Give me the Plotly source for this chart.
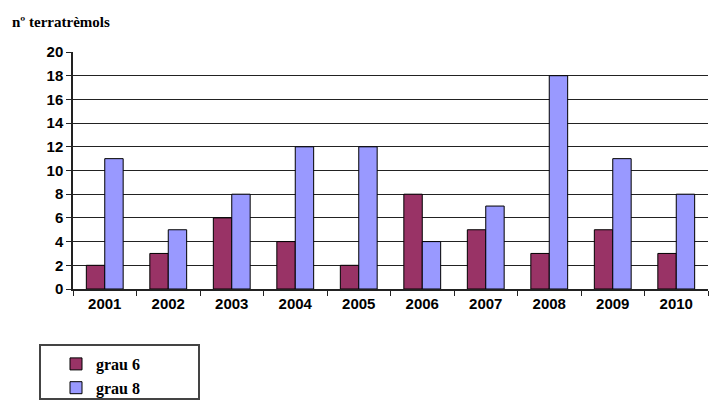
import plotly.graph_objects as go

years = ["2001", "2002", "2003", "2004", "2005", "2006", "2007", "2008", "2009", "2010"]
grau6 = [2, 3, 6, 4, 2, 8, 5, 3, 5, 3]
grau8 = [11, 5, 8, 12, 12, 4, 7, 18, 11, 8]
yticks = [0, 2, 4, 6, 8, 10, 12, 14, 16, 18, 20]

fig = go.Figure()
fig.add_trace(go.Bar(x=years, y=grau6, name="grau 6", marker=dict(color="#993366", line=dict(color="#000000", width=1))))
fig.add_trace(go.Bar(x=years, y=grau8, name="grau 8", marker=dict(color="#9999FF", line=dict(color="#000000", width=1))))

fig.update_layout(
    width=721, height=408,
    margin=dict(l=73, r=13, t=52, b=119, autoexpand=False),
    paper_bgcolor="white", plot_bgcolor="white",
    barmode="group", bargap=0.42, bargroupgap=0,
    showlegend=True,
    legend=dict(x=56 / 721, y=1 - 347 / 408, xanchor="left", yanchor="top",
                xref="container", yref="container",
                bgcolor="rgba(0,0,0,0)", borderwidth=0,
                font=dict(family="Liberation Serif", size=16, color="black", weight="bold"),
                tracegroupgap=0, itemwidth=30),
    shapes=[dict(type="rect", xref="paper", yref="paper",
                 x0=(40 - 73) / 635, x1=(199 - 73) / 635,
                 y0=-(399 - 289) / 237, y1=-(345 - 289) / 237,
                 line=dict(color="#444444", width=2))],
    annotations=[dict(text="nº terratrèmols", xref="paper", yref="paper",
                      x=(10 - 73) / 635, y=(289 - 22) / 237, xanchor="left", yanchor="middle",
                      showarrow=False,
                      font=dict(family="Liberation Serif", size=15, color="black", weight="bold"))],
)
fig.update_xaxes(showline=True, linecolor="#222222", linewidth=1.5,
                 ticks="outside", tickson="boundaries", ticklen=5, tickcolor="#222222",
                 tickfont=dict(family="Liberation Sans", size=15, color="black", weight="bold"),
                 showgrid=False)
fig.update_yaxes(range=[0, 20], tickvals=yticks, showline=True, linecolor="#222222", linewidth=1.5,
                 ticks="outside", ticklen=5, tickcolor="#222222",
                 gridcolor="#222222", gridwidth=1.3,
                 tickfont=dict(family="Liberation Sans", size=15, color="black", weight="bold"),
                 zeroline=False)
fig.write_html("out.html", config={"displayModeBar": False},
               post_script="document.body.style.margin='0px';")
